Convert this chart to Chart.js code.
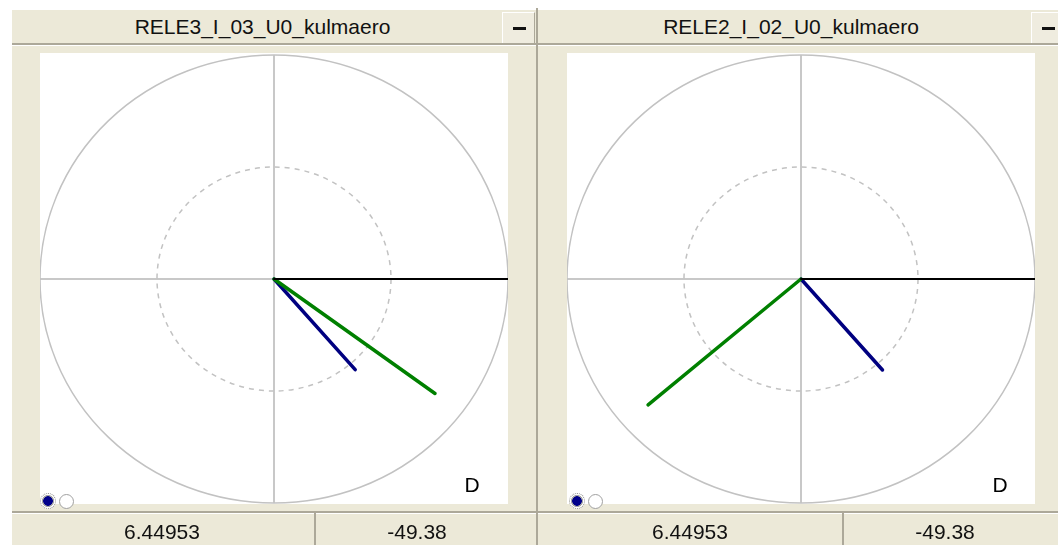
<!DOCTYPE html>
<html>
<head>
<meta charset="utf-8">
<title>Phasor panels</title>
<script src="https://cdn.jsdelivr.net/npm/chart.js@4.4.1/dist/chart.umd.min.js"></script>
<style>
  body { margin: 0; width: 1058px; height: 545px; background: #fff; overflow: hidden; position: relative;
         font-family: 'Liberation Sans', Arial, sans-serif; color: #000; }
  .panel { position: absolute; top: 10px; height: 535px; background: #ece9d8; }
  .title { position: absolute; left: 0; top: 0; height: 33px; line-height: 33px; text-align: center; font-size: 21px; color: #111; }
  .title-line { position: absolute; left: 0; right: 0; top: 33px; height: 2px; background: #aca899; border-bottom: 1px solid #fff; }
  .min-btn { position: absolute; top: 2px; width: 33px; height: 31px; box-sizing: border-box; background: #efecdf;
             border-left: 1px solid #fff; border-top: 1px solid #fff; border-right: 1px solid #aca899; }
  .min-btn::after { content: ''; position: absolute; left: 10px; top: 14px; width: 13px; height: 3px; background: #111; }
  .plot { position: absolute; top: 43px; width: 468px; height: 451px; background: #fff; }
  .status-line { position: absolute; left: 0; right: 0; top: 501px; height: 2px; background: #aca899; border-bottom: 1px solid #fff; }
  .status-div { position: absolute; top: 503px; bottom: 0; width: 2px; background: #aca899; }
  .readout { position: absolute; top: 507px; height: 30px; line-height: 30px; width: 200px; margin-left: -100px;
             text-align: center; font-size: 21px; color: #111; }
  .dlabel { position: absolute; top: 460px; height: 30px; line-height: 30px; width: 30px; margin-left: -15px;
            text-align: center; font-size: 21px; }
  .radio { position: absolute; top: 484px; width: 15px; height: 15px; border-radius: 50%; box-sizing: border-box;
           background: #fff; border: 1px solid #a0a0a0; }
  .radio.on { width: 16px; height: 16px; top: 483px; border: 1px dotted #8c8c8c;
              background: radial-gradient(circle, #00008b 0 4.5px, #a8a8a8 5px 5.8px, #fff 6.3px); }
  .divider { position: absolute; left: 536px; top: 8px; width: 2px; height: 537px; background: #aca899; }
</style>
</head>
<body>
<div class="panel" id="panel0" style="left:12px;width:524px;">
  <div class="title" style="width:501px;"></div>
  <div class="title-line"></div>
  <div class="min-btn" style="left:490px;"></div>
  <div class="plot" style="left:28px;"><canvas id="plot0" width="468" height="451"></canvas></div>
  <div class="dlabel" style="left:460px;"></div>
  <div class="radio on" style="left:28px;"></div>
  <div class="radio" style="left:47px;"></div>
  <div class="status-line"></div>
  <div class="status-div" style="left:302px;"></div>
  <div class="readout mag" style="left:150px;"></div>
  <div class="readout ang" style="left:405px;"></div>
</div>
<div class="divider"></div>
<div class="panel" id="panel1" style="left:538px;width:520px;">
  <div class="title" style="width:506px;"></div>
  <div class="title-line"></div>
  <div class="min-btn" style="left:493px;"></div>
  <div class="plot" style="left:29px;"><canvas id="plot1" width="468" height="451"></canvas></div>
  <div class="dlabel" style="left:462px;"></div>
  <div class="radio on" style="left:31px;"></div>
  <div class="radio" style="left:50px;"></div>
  <div class="status-line"></div>
  <div class="status-div" style="left:304px;"></div>
  <div class="readout mag" style="left:152px;"></div>
  <div class="readout ang" style="left:407px;"></div>
</div>
<script>
const panelTitles = ['RELE3_I_03_U0_kulmaero', 'RELE2_I_02_U0_kulmaero'];
// phasors: magnitude relative to outer ring, angle in degrees
const currentMagnitude = [0.533, 0.535];
const currentAngle = [-49.38, -49.38];
const voltageMagnitude = [0.857, 0.862];
const voltageAngle = [-36.6, -139.3];
const referenceMagnitude = [1, 1];
const referenceAngle = [0, 0];
const magnitudeReadout = ['6.44953', '6.44953'];
const angleReadout = ['-49.38', '-49.38'];
const directionLabel = ['D', 'D'];
const ringRadii = [1, 0.5];
const ringDash = [[], [5, 5]];

const toPoint = (mag, deg) => ({
  x: mag * Math.cos(deg * Math.PI / 180),
  y: mag * Math.sin(deg * Math.PI / 180),
});

// draws the reference rings through the scales
const ringPlugin = {
  id: 'rings',
  beforeDatasetsDraw(chart) {
    const { ctx, scales: { x, y } } = chart;
    const cx = x.getPixelForValue(0);
    const cy = y.getPixelForValue(0);
    ctx.save();
    ctx.strokeStyle = '#c2c2c2';
    ctx.lineWidth = 1.5;
    ringRadii.forEach((r, i) => {
      ctx.setLineDash(ringDash[i]);
      ctx.beginPath();
      ctx.ellipse(cx, cy, x.getPixelForValue(r) - cx, cy - y.getPixelForValue(r), 0, 0, Math.PI * 2);
      ctx.stroke();
    });
    ctx.restore();
  },
};

const phasor = (points, color, width) => ({
  data: points,
  showLine: true,
  borderColor: color,
  borderWidth: width,
  borderCapStyle: 'round',
  pointRadius: 0,
});

const axis = () => ({
  min: -1,
  max: 1,
  ticks: { display: false, stepSize: 1 },
  grid: {
    color: c => (c.tick && c.tick.value === 0 ? '#c8c8c8' : 'rgba(0,0,0,0)'),
    lineWidth: 2,
    drawTicks: false,
  },
  border: { display: false },
});

panelTitles.forEach((title, i) => {
  const panel = document.getElementById('panel' + i);
  panel.querySelector('.title').textContent = title;
  panel.querySelector('.mag').textContent = magnitudeReadout[i];
  panel.querySelector('.ang').textContent = angleReadout[i];
  panel.querySelector('.dlabel').textContent = directionLabel[i];

  const origin = { x: 0, y: 0 };
  new Chart(document.getElementById('plot' + i), {
    type: 'scatter',
    data: {
      datasets: [
        phasor([origin, toPoint(referenceMagnitude[i], referenceAngle[i])], '#000000', 2),
        phasor([origin, toPoint(voltageMagnitude[i], voltageAngle[i])], '#008000', 3.5),
        phasor([origin, toPoint(currentMagnitude[i], currentAngle[i])], '#000080', 3.5),
      ],
    },
    options: {
      responsive: false,
      animation: false,
      layout: { padding: { top: 2, bottom: 1, left: 0, right: 0 } },
      plugins: { legend: { display: false }, tooltip: { enabled: false } },
      scales: { x: axis(), y: axis() },
    },
    plugins: [ringPlugin],
  });
});
</script>
</body>
</html>
